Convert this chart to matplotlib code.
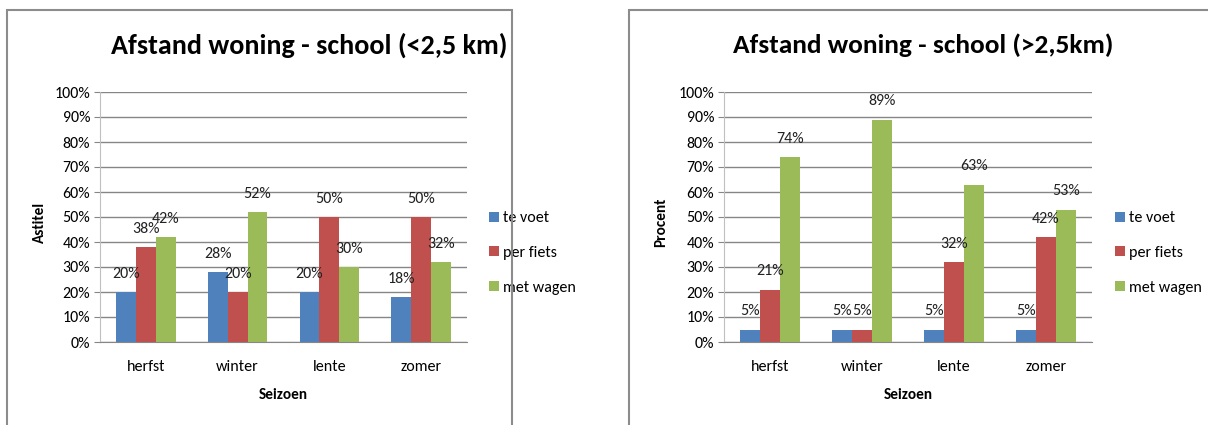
import matplotlib
matplotlib.use("Agg")
import matplotlib.pyplot as plt
from matplotlib import font_manager as fm
from matplotlib.patches import Rectangle
import numpy as np

# Data
seasons = ["herfst", "winter", "lente", "zomer"]
series_names = ["te voet", "per fiets", "met wagen"]
near_te_voet = [20, 28, 20, 18]
near_per_fiets = [38, 20, 50, 50]
near_met_wagen = [42, 52, 30, 32]
far_te_voet = [5, 5, 5, 5]
far_per_fiets = [21, 5, 32, 42]
far_met_wagen = [74, 89, 63, 53]

colors = ["#4F81BD", "#C0504D", "#9BBB59"]


def pick_font(candidates):
    for name in candidates:
        try:
            fm.findfont(fm.FontProperties(family=name), fallback_to_default=False)
            return name
        except Exception:
            continue
    return "DejaVu Sans"


font = pick_font(["Carlito", "Liberation Sans Narrow", "Lato", "Open Sans"])
plt.rcParams["font.family"] = [font, "DejaVu Sans"]

W, H = 1208, 425
fig = plt.figure(figsize=(W / 100, H / 100), dpi=100)


def fx(px):
    return px / W


def fy(py):
    return 1 - py / H


# panel frames
fig.patches.append(Rectangle((fx(7), fy(430)), fx(505), fy(10) - fy(430),
                             transform=fig.transFigure, fill=False,
                             edgecolor="#8c8c8c", linewidth=1.5))
fig.patches.append(Rectangle((fx(629), fy(430)), fx(600), fy(10) - fy(430),
                             transform=fig.transFigure, fill=False,
                             edgecolor="#8c8c8c", linewidth=1.5))


def draw_panel(left_px, right_px, title, title_x, title_size, ylabel, ylabel_x,
               legend_x, data):
    ax = fig.add_axes([fx(left_px), fy(342), fx(right_px - left_px), fy(92) - fy(342)])
    x = np.arange(len(seasons))
    width = 0.217
    for i, (vals, col, name) in enumerate(zip(data, colors, series_names)):
        pos = x + (i - 1) * width
        bars = ax.bar(pos, vals, width, color=col, label=name, zorder=3)
        for b, v in zip(bars, vals):
            ax.text(b.get_x() + b.get_width() / 2, v + 4.5, f"{v}%",
                    ha="center", va="bottom", fontsize=11.5, color="#222222", zorder=4)
    ax.set_xlim(-0.5, len(seasons) - 0.5)
    ax.set_ylim(0, 100)
    ax.set_yticks(range(0, 101, 10))
    ax.set_yticklabels([f"{t}%" for t in range(0, 101, 10)], fontsize=11.5)
    ax.set_xticks(x)
    ax.set_xticklabels(seasons, fontsize=11.5)
    ax.tick_params(axis="x", length=0, pad=13)
    ax.tick_params(axis="y", length=4, color="#868686", pad=3)
    ax.yaxis.grid(True, color="#868686", linewidth=1.0, zorder=0)
    ax.set_axisbelow(True)
    for s in ["top", "right"]:
        ax.spines[s].set_visible(False)
    ax.spines["left"].set_color("#bfbfbf")
    ax.spines["bottom"].set_color("#868686")
    ax.set_xlabel("Seizoen", fontsize=11, fontweight="bold", labelpad=10)
    fig.text(fx(title_x), fy(45), title, ha="center", va="center",
             fontsize=title_size, fontweight="bold")
    fig.text(fx(ylabel_x), fy(222), ylabel, ha="center", va="center",
             rotation=90, fontsize=11, fontweight="bold")
    ax.legend(loc="center left", bbox_to_anchor=(fx(legend_x), fy(253)),
              bbox_transform=fig.transFigure, frameon=False, fontsize=11.5,
              handlelength=0.6, handleheight=0.6, handletextpad=0.25,
              labelspacing=1.3, borderpad=0, borderaxespad=0)
    return ax


draw_panel(100, 467, "Afstand woning - school (<2,5 km)", 309, 20.2, "Astitel", 40, 489,
           [near_te_voet, near_per_fiets, near_met_wagen])
draw_panel(724, 1092, "Afstand woning - school (>2,5km)", 923, 19.7, "Procent", 661, 1115,
           [far_te_voet, far_per_fiets, far_met_wagen])

fig.savefig("out.png", dpi=100)
